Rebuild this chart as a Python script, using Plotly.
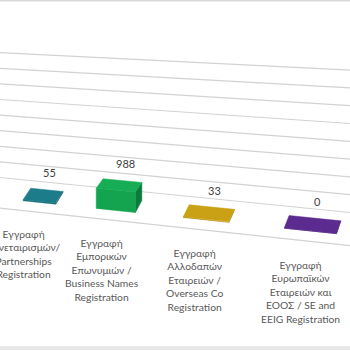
import plotly.graph_objects as go

# ---- data ----
categories = [
    "Εγγραφή<br>Συνεταιρισμών/<br>Partnerships<br>Registration",
    "Εγγραφή<br>Εμπορικών<br>Επωνυμιών /<br>Business Names<br>Registration",
    "Εγγραφή<br>Αλλοδαπών<br>Εταιρειών /<br>Overseas Co<br>Registration",
    "Εγγραφή<br>Ευρωπαϊκών<br>Εταιρειών και<br>ΕΟΟΣ / SE and<br>EEIG Registration",
]
values = [55, 988, 33, 0]
value_labels = ["55", "988", "33", "0"]
gridline_values = [0, 1000, 2000, 3000, 4000, 5000, 6000, 7000, 8000]

# ---- styles ----
top_colors = ["#1d7c89", "#17ad55", "#caa114", "#5c2b8f"]
front_colors = ["#176b76", "#14a34f", "#b48f0e", "#4d2379"]
side_colors = ["#125a63", "#0c7a3a", "#9b7a0a", "#3f1c64"]
grid_color = "#d2d2d2"
font_family = "Lato, 'Noto Sans', sans-serif"


# simple perspective-like projection of the 3D chart space
# p: category position, t: depth (0 = back wall, 1 = front edge), v: value
def xb(p):
    return 51.7 + 68.2 * p + 6.83 * p * p


def proj(p, t, v):
    b = xb(p)
    x = b * (1 + 0.0267 * t) - 20 * t
    y0 = 177.5 + 0.1 * b + 28.5 * t + 0.01 * b * t
    s = (15.6 + 0.0063 * b) * (1 + 0.38 * t) / 1000.0
    return x, y0 - v * s


fig = go.Figure()

# gridlines on back wall
for gv in gridline_values:
    a = proj(-1.5, 0, gv)
    c = proj(4.5, 0, gv)
    fig.add_trace(go.Scatter(x=[a[0], c[0]], y=[a[1], c[1]], mode="lines",
                             line=dict(color=grid_color, width=1.2), hoverinfo="skip"))
# front floor edge
a = proj(-1.5, 1, 0)
c = proj(4.5, 1, 0)
fig.add_trace(go.Scatter(x=[a[0], c[0]], y=[a[1], c[1]], mode="lines",
                         line=dict(color=grid_color, width=1.2), hoverinfo="skip"))

w = 0.235
t0, t1 = 0.28, 0.68


def poly(pts, color):
    xs = [q[0] for q in pts] + [pts[0][0]]
    ys = [q[1] for q in pts] + [pts[0][1]]
    fig.add_trace(go.Scatter(x=xs, y=ys, mode="lines", fill="toself",
                             fillcolor=color, line=dict(color=color, width=0.5),
                             hoverinfo="skip"))


annotations = []
for i, v in enumerate(values):
    p = i
    side = [proj(p + w, t0, 0), proj(p + w, t1, 0), proj(p + w, t1, v), proj(p + w, t0, v)]
    front = [proj(p - w, t1, 0), proj(p + w, t1, 0), proj(p + w, t1, v), proj(p - w, t1, v)]
    top = [proj(p - w, t0, v), proj(p + w, t0, v), proj(p + w, t1, v), proj(p - w, t1, v)]
    poly(side, side_colors[i])
    poly(front, front_colors[i])
    poly(top, top_colors[i])
    lx, ly = proj(p, t0, v)
    annotations.append(dict(x=lx + 3, y=ly - 17, xref="x", yref="y", text=value_labels[i],
                            showarrow=False, xanchor="center", yanchor="middle",
                            font=dict(family=font_family, size=11, color="#404040")))
    cx, cy = proj(p, 1.5, 0)
    annotations.append(dict(x=cx, y=cy, xref="x", yref="y", text=categories[i],
                            showarrow=False, xanchor="center", yanchor="top", align="center",
                            font=dict(family=font_family, size=10.3, color="#595959")))

fig.update_layout(
    width=350, height=350,
    margin=dict(l=0, r=0, t=0, b=0),
    paper_bgcolor="white", plot_bgcolor="white",
    showlegend=False,
    xaxis=dict(range=[0, 350], visible=False, fixedrange=True),
    yaxis=dict(range=[350, 0], visible=False, fixedrange=True),
    annotations=annotations,
    shapes=[
        dict(type="rect", xref="x", yref="y", x0=0, x1=350, y0=0, y1=1.5,
             fillcolor="#d9d9d9", line=dict(width=0), layer="above"),
        dict(type="rect", xref="x", yref="y", x0=0, x1=350, y0=346, y1=350,
             fillcolor="#e8e8e8", line=dict(width=0), layer="above"),
    ],
)

fig.write_html("out.html")
